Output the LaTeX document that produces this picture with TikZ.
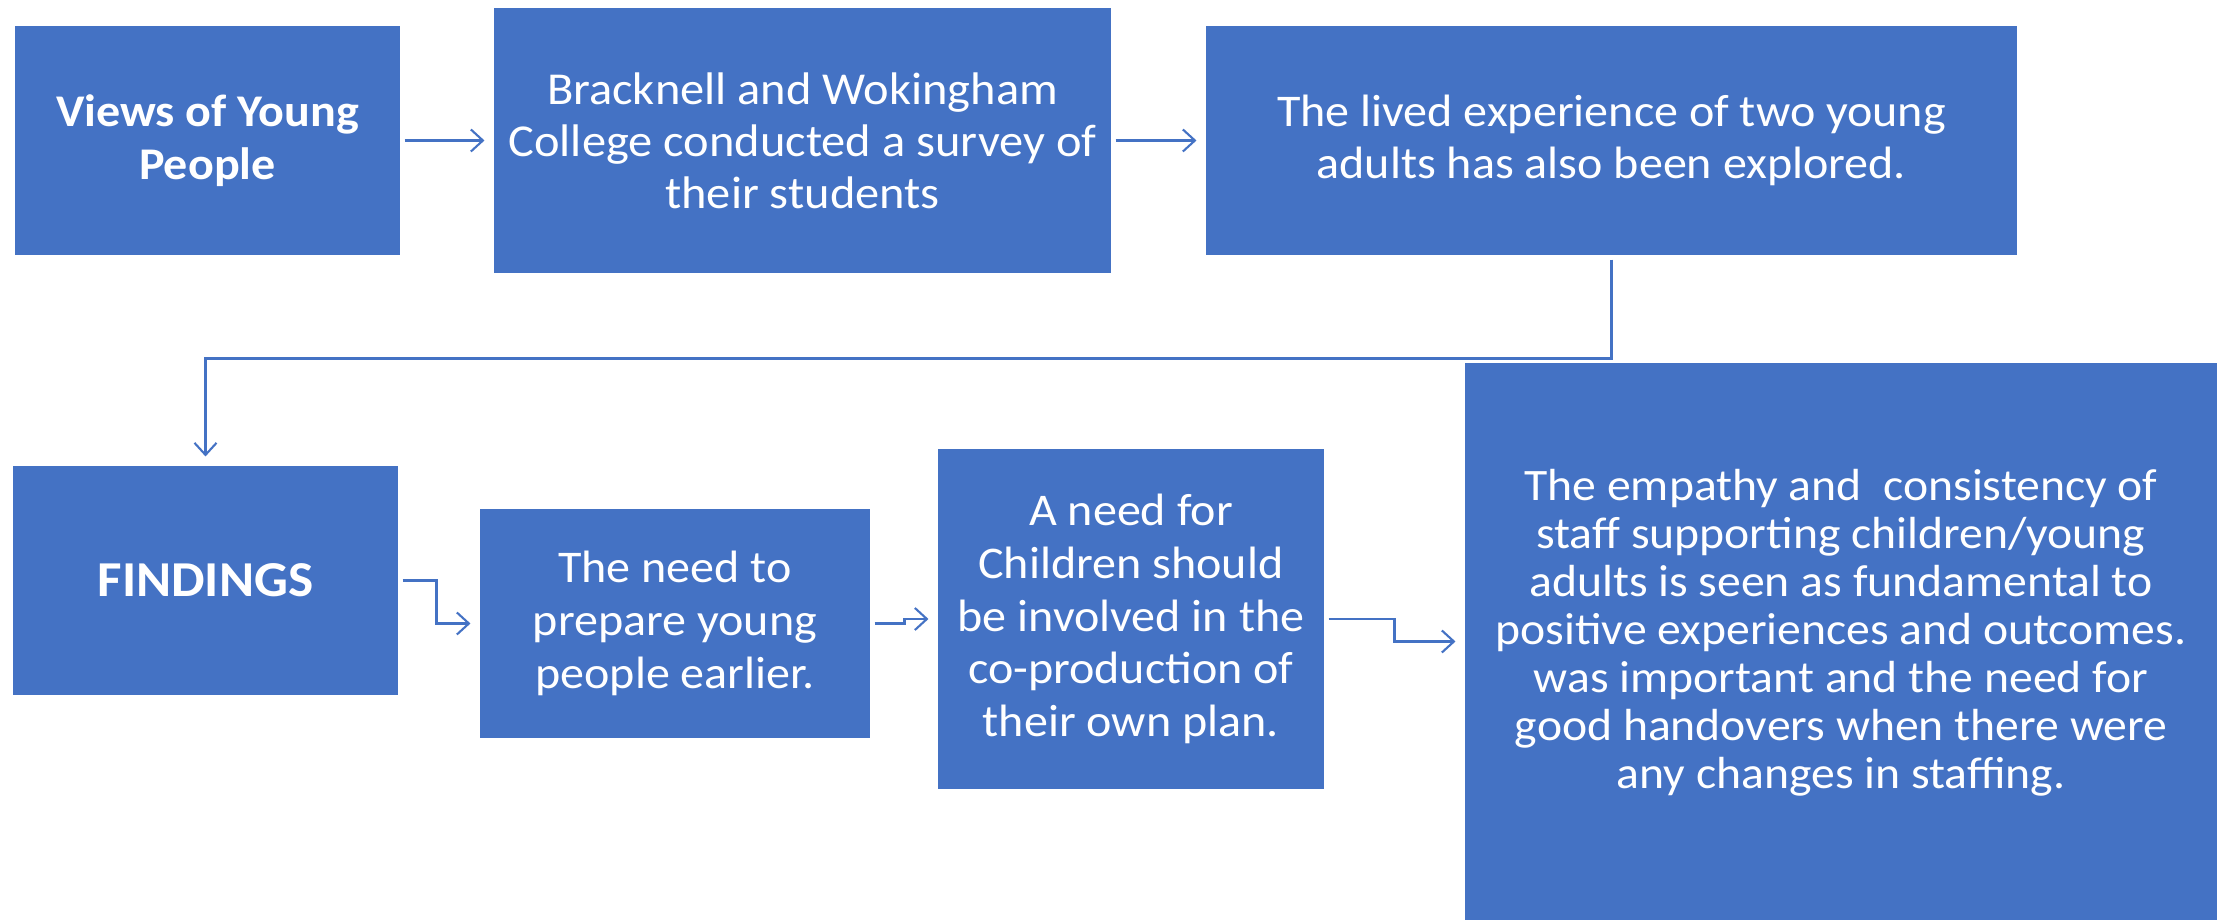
\documentclass[tikz,border=0pt]{standalone}
\usepackage{fontspec}
\setmainfont{Carlito}[FakeStretch=1.06]
\usepackage{tikz}
\usetikzlibrary{arrows.meta,calc,positioning}
\definecolor{officeblue}{HTML}{4472C4}
\tikzstyle{box}=[rectangle, fill=officeblue, draw=white, line width=0.3pt, text=white, align=center, inner sep=0pt]
\tikzstyle{conn}=[draw=officeblue, line width=0.6pt, shorten <=0.3mm, shorten >=0.8mm, -{Straight Barb[length=1.2mm,width=2.2mm]}]

\begin{document}
\begin{tikzpicture}[txt/.style={font=\fontsize{12.9}{15}\selectfont},
smalltxt/.style={font=\fontsize{12.8}{13.66}\selectfont}]
\useasboundingbox (0,0) rectangle (22.24,-9.21);
\node (views) at (2.075,-1.405)[box,minimum width=3.87cm,minimum height=2.31cm,font=\fontsize{12.9}{15.1}\selectfont\bfseries] {Views of Young\\People};
\node (college) at (8.025,-1.405)[box,minimum width=6.19cm,minimum height=2.67cm,font=\fontsize{13.0}{14.8}\selectfont] {Bracknell and Wokingham\\College conducted a survey of\\their students};
\node (lived) at (16.115,-1.405)[box,txt,minimum width=8.13cm,minimum height=2.31cm] {The lived experience of two young\\adults has also been explored.};
\node (findings) at (2.055,-5.805)[box,minimum width=3.87cm,minimum height=2.31cm,font=\fontsize{14.3}{17}\selectfont\bfseries] {FINDINGS};
\node (prepare) at (6.75,-6.235)[box,txt,minimum width=3.92cm,minimum height=2.31cm] {The need to\\prepare young\\people earlier.};
\node (coprod) at (11.31,-6.19)[box,txt,minimum width=3.88cm,minimum height=3.42cm] {A need for\\Children should\\be involved in the\\co-production of\\their own plan.};
\node (empathy) at (18.41,-6.415)[box,minimum width=7.54cm,minimum height=5.59cm] {};
\node (empathytxt) at ($(empathy.center)+(0,0.09)$)[align=center,text=white,smalltxt] {The empathy and~ consistency of\\staff supporting children/young\\adults is seen as fundamental to\\positive experiences and outcomes.\\was important and the need for\\good handovers when there were\\any changes in staffing.};
\draw[conn] (views) -- (college);
\draw[conn] (college) -- (lived);
\draw[conn] (lived.south) -- ++(0,-1.02) -| (findings.north);
\draw[conn] (findings.east) -- ++(0.37,0) |- (prepare.west);
\draw[conn] (prepare.east) -- ++(0.33,0) |- (coprod.west);
\draw[conn] (coprod.east) -- ++(0.69,0) |- (empathy.west);
\end{tikzpicture}
\end{document}
